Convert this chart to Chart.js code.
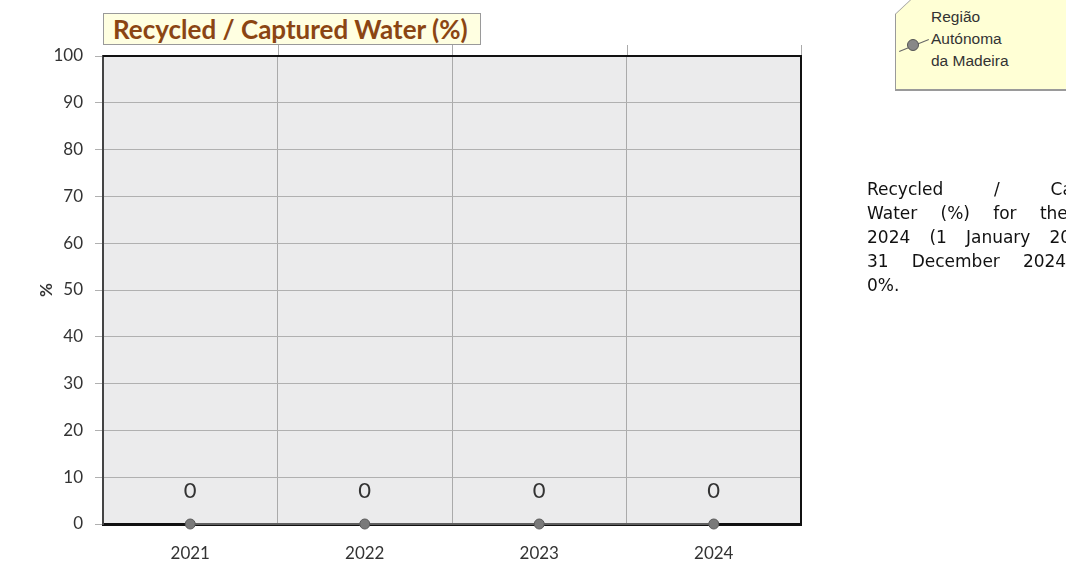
<!DOCTYPE html>
<html><head><meta charset="utf-8">
<script src="https://cdn.jsdelivr.net/npm/chart.js@4"></script>
<style>
html,body{margin:0;padding:0;background:#fff;width:1066px;height:572px;overflow:hidden;position:relative;}
#wrap{position:absolute;left:0;top:0;width:1066px;height:572px;}
#title{position:absolute;left:103px;top:13px;width:367px;height:30px;background:#FFFFE1;border:1px solid #9a9a9a;
 font-family:Lato,"Open Sans",sans-serif;font-weight:bold;font-size:26px;color:#8B4513;line-height:30px;padding-left:9px;box-sizing:content-box;white-space:nowrap;}
#legend{position:absolute;left:895px;top:0px;width:180px;height:91px;background:#9a9a9a;
 clip-path:polygon(15px 0,100% 0,100% 100%,0 100%,0 14px);}
#legendIn{position:absolute;left:1px;top:0px;width:180px;height:89px;background:#FFFFD5;
 clip-path:polygon(15px 0,100% 0,100% 100%,0 100%,0 14px);}
#legText{position:absolute;left:35px;top:6px;font-family:"Liberation Sans",Arial,sans-serif;font-size:15.5px;line-height:22px;color:#333;}
#legLine{position:absolute;left:2px;top:45px;width:32px;height:1px;background:#666;transform:rotate(-22deg);}
#legDot{position:absolute;left:11px;top:39px;width:12px;height:12px;border-radius:50%;background:#888;border:1px solid #555;box-sizing:border-box;}
#desc{position:absolute;left:867px;top:177px;width:262px;font-family:"DejaVu Sans",Verdana,sans-serif;font-size:17px;line-height:24px;color:#111;}
#desc .j{text-align:justify;text-align-last:justify;white-space:nowrap;}
</style></head>
<body>
<div id="wrap"><canvas id="c" width="1066" height="572"></canvas></div>
<div id="title">Recycled / Captured Water (%)</div>
<div id="legend"><div id="legendIn"><div id="legLine"></div><div id="legDot"></div><div id="legText">Região<br>Autónoma<br>da Madeira</div></div></div>
<div id="desc"><div class="j">Recycled / Captured</div><div class="j">Water (%) for the year</div><div class="j">2024 (1 January 2024 to</div><div class="j">31 December 2024) was</div><div>0%.</div></div>
<script>
const categories = ["2021","2022","2023","2024"];
const seriesName = "Região Autónoma da Madeira";
const values = [0,0,0,0];
const yTicks = [0,10,20,30,40,50,60,70,80,90,100];

const FONT = 'Lato, "Open Sans", sans-serif';

const bgPlugin = {
  id:'bg',
  beforeDraw(chart){
    const {ctx, chartArea:a} = chart;
    ctx.save(); ctx.fillStyle='#EBEBEC'; ctx.fillRect(a.left,a.top,a.right-a.left,a.bottom-a.top); ctx.restore();
  },
  beforeDatasetsDraw(chart){
    const {ctx, chartArea:a, scales} = chart;
    ctx.save();
    ctx.strokeStyle='#aaaaaa'; ctx.lineWidth=1;
    const xs = scales.x;
    for(let i=1;i<categories.length;i++){
      const bx = Math.round((xs.getPixelForValue(i-1)+xs.getPixelForValue(i))/2)+0.5;
      ctx.beginPath(); ctx.moveTo(bx,a.top-11); ctx.lineTo(bx,a.top); ctx.stroke();
    }
    ctx.beginPath(); ctx.moveTo(a.right+0.5,a.top-11); ctx.lineTo(a.right+0.5,a.top); ctx.stroke();
    ctx.strokeStyle='#111'; ctx.lineWidth=2;
    ctx.beginPath(); ctx.moveTo(a.left,a.top); ctx.lineTo(a.right,a.top); ctx.lineTo(a.right,a.bottom); ctx.stroke();
    ctx.restore();
  },
  afterDatasetsDraw(chart){
    const {ctx} = chart;
    const meta = chart.getDatasetMeta(0);
    ctx.save();
    ctx.font='22px ' + FONT;
    ctx.fillStyle='#333'; ctx.textAlign='center'; ctx.textBaseline='middle';
    meta.data.forEach((pt,i)=>{ ctx.fillText(String(values[i]), pt.x, pt.y-33); });
    ctx.restore();
  }
};

new Chart(document.getElementById('c'),{
  type:'line',
  data:{labels:categories,datasets:[{label:seriesName,data:values,borderColor:'#5f5f5f',borderWidth:2,
    pointRadius:5,pointHoverRadius:5,pointBackgroundColor:'#7a7a7a',pointBorderColor:'#5a5a5a',pointBorderWidth:1,clip:false}]},
  options:{
    responsive:false,animation:false,
    layout:{padding:{left:0,top:56,right:265,bottom:0}},
    plugins:{legend:{display:false},tooltip:{enabled:false},title:{display:false}},
    scales:{
      x:{offset:true,
        grid:{offset:true,color:'#aaaaaa',drawTicks:false,lineWidth:1},
        border:{color:'#111',width:3},
        ticks:{color:'#333',font:{family:FONT,size:17},padding:19},
        afterFit(s){s.height=48;}
      },
      y:{min:0,max:100,
        afterBuildTicks(s){s.ticks=yTicks.map(v=>({value:v}));},
        grid:{color:'#b0b0b0',tickLength:8,lineWidth:1},
        border:{color:'#444',width:2},
        ticks:{color:'#333',font:{family:FONT,size:17},padding:12},
        title:{display:true,text:'%',color:'#333',font:{family:FONT,size:17,weight:'bold'},padding:{top:36,bottom:0}},
        afterFit(s){s.width=103;}
      }
    }
  },
  plugins:[bgPlugin]
});
</script>
</body></html>
